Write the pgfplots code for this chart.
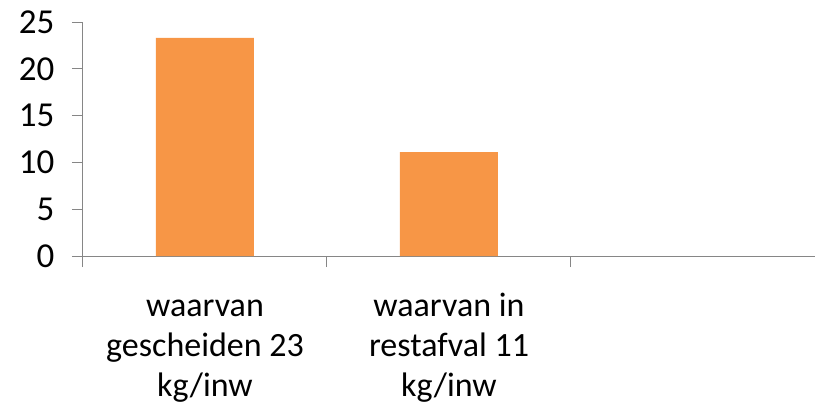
\documentclass[border=0pt]{standalone}
\usepackage{pgfplots}
\pgfplotsset{compat=1.18}
\usepackage{fontspec}
\setmainfont{Carlito}
\definecolor{barorange}{HTML}{F79646}
\definecolor{axgray}{HTML}{868686}
\begin{document}
\fontsize{34}{40}\selectfont
\begin{tikzpicture}
\useasboundingbox (-83pt,-151pt) rectangle (732pt,256pt);
\begin{axis}[
  at={(0pt,0pt)}, anchor=south west,
  scale only axis,
  width=732pt, height=234pt,
  xmin=0, xmax=3, ymin=0, ymax=25,
  axis x line*=bottom, axis y line*=left,
  axis line style={axgray, line width=1pt},
  every tick/.style={axgray, line width=1pt},
  tick align=outside,
  major tick length=11pt,
  ytick={0,5,10,15,20,25},
  xtick={0,1,2},
  xticklabels={},
  extra x ticks={0.5,1.5},
  extra x tick labels={{\strut waarvan\\\strut gescheiden 23\\\strut kg/inw},{\strut waarvan in\\\strut restafval 11\\\strut kg/inw}},
  extra x tick style={major tick length=0pt, xticklabel style={align=center, anchor=north, yshift=-21pt, font=\fontsize{34}{40}\selectfont}},
  /pgf/number format/assume math mode=true,
  yticklabel style={font=\fontsize{35}{40}\selectfont, xshift=-6pt},
  clip=false,
]
\addplot[ybar, bar width=98pt, fill=barorange, draw=none] coordinates {(0.5,23.3) (1.5,11.1)};
\end{axis}
\end{tikzpicture}
\end{document}
